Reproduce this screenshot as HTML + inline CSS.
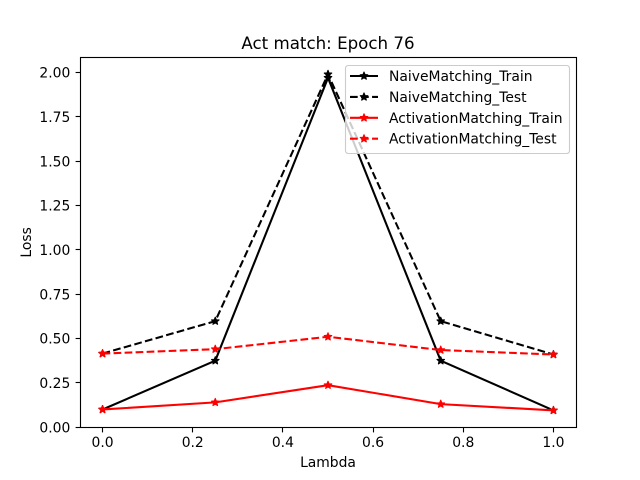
<!DOCTYPE html>
<html>
<head>
<meta charset="utf-8">
<style>
html,body{margin:0;padding:0;background:#fff;}
svg{display:block;}
text{font-family:"DejaVu Sans","Liberation Sans",sans-serif;fill:#000;}
</style>
</head>
<body>
<svg id="chart" xmlns="http://www.w3.org/2000/svg" width="640" height="480" viewBox="0 0 640 480">
  <rect x="0" y="0" width="640" height="480" fill="#fff"/>
  <rect x="80" y="57.6" width="496" height="369.6" fill="#fff"/>
  <g id="marks"></g>
  <g id="ticks"></g>
  <rect x="80.5" y="57.5" width="496" height="370" fill="none" stroke="#000" stroke-width="1.11"/>
  <text x="328" y="49" text-anchor="middle" font-size="16.67px">Act match: Epoch 76</text>
  <text x="328" y="467" text-anchor="middle" font-size="13.89px">Lambda</text>
  <text transform="translate(31,242.4) rotate(-90)" text-anchor="middle" font-size="13.89px">Loss</text>
  <g id="legend">
    <rect x="345.5" y="65.5" width="224" height="88" rx="2.8" ry="2.8" fill="#fff" fill-opacity="0.8" stroke="#ccc" stroke-width="1.11"/>
  </g>
</svg>
<script>
var lambdas = [0, 0.25, 0.5, 0.75, 1];
var naiveTrain = [0.10, 0.375, 1.97, 0.375, 0.095];
var naiveTest = [0.415, 0.598, 1.99, 0.598, 0.41];
var activationTrain = [0.10, 0.14, 0.237, 0.13, 0.095];
var activationTest = [0.415, 0.44, 0.51, 0.435, 0.41];
var xTickValues = [0, 0.2, 0.4, 0.6, 0.8, 1];
var xTickLabels = ['0.0', '0.2', '0.4', '0.6', '0.8', '1.0'];
var yTickValues = [0, 0.25, 0.5, 0.75, 1, 1.25, 1.5, 1.75, 2];
var yTickLabels = ['0.00', '0.25', '0.50', '0.75', '1.00', '1.25', '1.50', '1.75', '2.00'];
var seriesNames = ['NaiveMatching_Train', 'NaiveMatching_Test', 'ActivationMatching_Train', 'ActivationMatching_Test'];

var NS = 'http://www.w3.org/2000/svg';
function xScale(v) { return 102.55 + v * 450.9; }
function yScale(v) { return 427.2 - v * 177.35; }
function snap(p) { return Math.floor(p) + 0.5; }

function make(tag, attrs, parent) {
  var el = document.createElementNS(NS, tag);
  for (var k in attrs) { el.setAttribute(k, attrs[k]); }
  parent.appendChild(el);
  return el;
}

function starPoints(cx, cy) {
  var outer = 3.95, inner = outer * 0.44, pts = [];
  for (var i = 0; i < 10; i++) {
    var r = i % 2 === 0 ? outer : inner;
    var a = -Math.PI / 2 + i * Math.PI / 5;
    pts.push((cx + r * Math.cos(a)).toFixed(2) + ',' + (cy + r * Math.sin(a)).toFixed(2));
  }
  return pts.join(' ');
}

function drawSeries(values, color, dash, name) {
  var group = document.getElementById('marks');
  var pts = values.map(function (v, i) { return xScale(lambdas[i]).toFixed(2) + ',' + yScale(v).toFixed(2); }).join(' ');
  var line = make('polyline', { points: pts, fill: 'none', stroke: color, 'stroke-width': 2.08, 'stroke-linejoin': 'round', 'stroke-linecap': dash ? 'butt' : 'square' }, group);
  
  
  if (dash) { line.setAttribute('stroke-dasharray', '7.7 3.33'); }
  values.forEach(function (v, i) {
    var star = make('polygon', { points: starPoints(xScale(lambdas[i]), yScale(v)), fill: color, stroke: color, 'stroke-width': 1.1, 'stroke-linejoin': 'round' }, group);
    
    
  });
}

drawSeries(naiveTrain, '#000', false, 'naive-train');
drawSeries(naiveTest, '#000', true, 'naive-test');
drawSeries(activationTrain, '#f00', false, 'activation-train');
drawSeries(activationTest, '#f00', true, 'activation-test');

var tickGroup = document.getElementById('ticks');
xTickValues.forEach(function (v, i) {
  var x = xScale(v);
  var t = make('line', { x1: snap(x), x2: snap(x), y1: 427.5, y2: 432.4, stroke: '#000', 'stroke-width': 1.11 }, tickGroup);
  
  
  var l = make('text', { x: x, y: 447, 'text-anchor': 'middle', 'font-size': '13.89px' }, tickGroup);
  l.textContent = xTickLabels[i];
  
  
});
yTickValues.forEach(function (v, i) {
  var y = yScale(v);
  var t = make('line', { x1: 75.6, x2: 80.5, y1: snap(y), y2: snap(y), stroke: '#000', 'stroke-width': 1.11 }, tickGroup);
  
  
  var l = make('text', { x: 70.3, y: y + 5.2, 'text-anchor': 'end', 'font-size': '13.89px' }, tickGroup);
  l.textContent = yTickLabels[i];
  
  
});

var legend = document.getElementById('legend');
var legendColors = ['#000', '#000', '#f00', '#f00'];
seriesNames.forEach(function (name, i) {
  var y = 76 + i * 20.9;
  var dashed = i % 2 === 1;
  var h = make('line', { x1: 350, x2: 378, y1: y, y2: y, stroke: legendColors[i], 'stroke-width': 2.08 }, legend);
  
  
  if (dashed) { h.setAttribute('stroke-dasharray', '7.7 3.33'); }
  var s = make('polygon', { points: starPoints(364, y), fill: legendColors[i], stroke: legendColors[i], 'stroke-width': 1.1, 'stroke-linejoin': 'round' }, legend);
  
  
  var t = make('text', { x: 389, y: y + 5, 'font-size': '13.89px' }, legend);
  t.textContent = name;
  
  
});
</script>
</body>
</html>
